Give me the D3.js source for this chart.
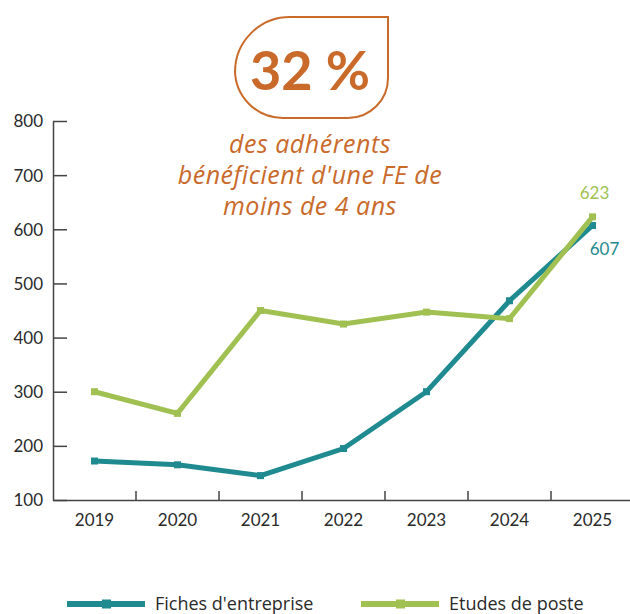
<!DOCTYPE html>
<meta charset="utf-8">
<style>
    body { margin: 0; background: #fff; }
    text { font-family: "Lato", "Open Sans", sans-serif; }
    .axis text { font-size: 17px; fill: #2a2a2a; }
    .axis path, .axis line { stroke: #444; stroke-width: 1.5; }
</style>
<svg width="630" height="614"></svg>
<script src="https://d3js.org/d3.v7.min.js"></script>
<script>

    var years = ["2019", "2020", "2021", "2022", "2023", "2024", "2025"];
    var fiches = [172, 165, 145, 195, 300, 468, 607];
    var etudes = [300, 260, 450, 425, 447, 435, 623];
    var yTicks = [100, 200, 300, 400, 500, 600, 700, 800];
    var seriesNames = ["Fiches d'entreprise", "Etudes de poste"];
    var colors = ["#1f8a8f", "#a0c151"];
    var orange = "#c96a2b";

    var svg = d3.select("svg"),
        margin = {top: 121, right: 0, bottom: 114, left: 53},
        width = 634 - margin.left,
        height = +svg.attr("height") - margin.top - margin.bottom;

    var x = d3.scaleBand().domain(years).range([0, width]),
        y = d3.scaleLinear().domain([100, 800]).range([height, 0]);

    var g = svg.append("g")
        .attr("transform", "translate(" + margin.left + "," + margin.top + ")");

    // y axis, ticks pointing inward
    var yAxis = g.append("g")
        .attr("class", "axis axis--y")
        .call(d3.axisRight(y).tickValues(yTicks).tickSize(14).tickSizeOuter(0));
    yAxis.selectAll("text")
        .attr("x", -10)
        .attr("text-anchor", "end")
        .attr("dy", "0.35em");

    // x axis, ticks pointing up
    var xAxis = g.append("g")
        .attr("class", "axis axis--x")
        .attr("transform", "translate(0," + height + ")")
        .call(d3.axisTop(x).tickSize(0).tickSizeOuter(0));
    xAxis.selectAll("text").attr("y", 26).attr("dy", 0);
    xAxis.selectAll(".sep")
        .data(years.slice(1))
        .enter().append("line")
        .attr("class", "sep")
        .attr("x1", function(d) { return x(d); })
        .attr("x2", function(d) { return x(d); })
        .attr("y1", 0)
        .attr("y2", -9);

    var line = d3.line()
        .x(function(d, i) { return x(years[i]) + x.bandwidth() / 2; })
        .y(function(d) { return y(d); });

    [fiches, etudes].forEach(function(vals, k) {
        g.append("path")
            .datum(vals)
            .attr("fill", "none")
            .attr("stroke", colors[k])
            .attr("stroke-width", 5)
            .attr("d", line);
        g.selectAll(".m" + k)
            .data(vals)
            .enter().append("rect")
            .attr("class", "m" + k)
            .attr("x", function(d, i) { return x(years[i]) + x.bandwidth() / 2 - 3.5; })
            .attr("y", function(d) { return y(d) - 3.5; })
            .attr("width", 7)
            .attr("height", 7)
            .attr("fill", colors[k]);
    });

    // end labels
    var last = years.length - 1;
    g.append("text")
        .attr("x", x(years[last]) + x.bandwidth() / 2 + 2)
        .attr("y", y(etudes[last]) - 18)
        .attr("text-anchor", "middle")
        .attr("fill", colors[1])
        .style("font-size", "17px")
        .text(etudes[last]);
    g.append("text")
        .attr("x", x(years[last]) + x.bandwidth() / 2 + 12)
        .attr("y", y(fiches[last]) + 30)
        .attr("text-anchor", "middle")
        .attr("fill", colors[0])
        .style("font-size", "17px")
        .text(fiches[last]);

    // callout
    var bx = 235, by = 17, bw = 153, bh = 101;
    var p = d3.path();
    p.moveTo(bx + 55, by);
    p.lineTo(bx + bw, by);
    p.lineTo(bx + bw, by + bh - 40);
    p.arcTo(bx + bw, by + bh, bx + bw - 40, by + bh, 40);
    p.lineTo(bx + 48, by + bh);
    p.arcTo(bx, by + bh, bx, by + bh - 48, 48);
    p.lineTo(bx, by + 55);
    p.arcTo(bx, by, bx + 55, by, 55);
    p.closePath();
    svg.append("path")
        .attr("d", p.toString())
        .attr("fill", "none")
        .attr("stroke", orange)
        .attr("stroke-width", 2);

    svg.append("text")
        .attr("x", 310)
        .attr("y", 90)
        .attr("text-anchor", "middle")
        .attr("fill", orange)
        .style("font-size", "54px")
        .style("font-weight", "bold")
        .text("32 %");

    var calloutLines = ["des adhérents", "bénéficient d'une FE de", "moins de 4 ans"];
    svg.selectAll(".callout")
        .data(calloutLines)
        .enter().append("text")
        .attr("class", "callout")
        .attr("x", 310)
        .attr("y", function(d, i) { return 153 + i * 31; })
        .attr("text-anchor", "middle")
        .attr("fill", orange)
        .style("font-family", "'Open Sans', sans-serif")
        .style("font-size", "25px")
        .style("letter-spacing", "0.5px")
        .style("font-style", "italic")
        .text(function(d) { return d; });

    // legend
    var legendX = [67, 361];
    seriesNames.forEach(function(name, k) {
        var lg = svg.append("g").attr("transform", "translate(" + legendX[k] + ",604)");
        lg.append("line")
            .attr("x1", 0).attr("x2", 78)
            .attr("stroke", colors[k]).attr("stroke-width", 6);
        lg.append("rect")
            .attr("x", 35).attr("y", -4.5).attr("width", 9).attr("height", 9)
            .attr("fill", colors[k]);
        lg.append("text")
            .attr("x", 88)
            .attr("dy", "0.35em")
            .attr("fill", "#2a2a2a")
            .style("font-family", "'Open Sans', sans-serif")
            .style("font-size", "18px")
            .text(name);
    });

</script>
